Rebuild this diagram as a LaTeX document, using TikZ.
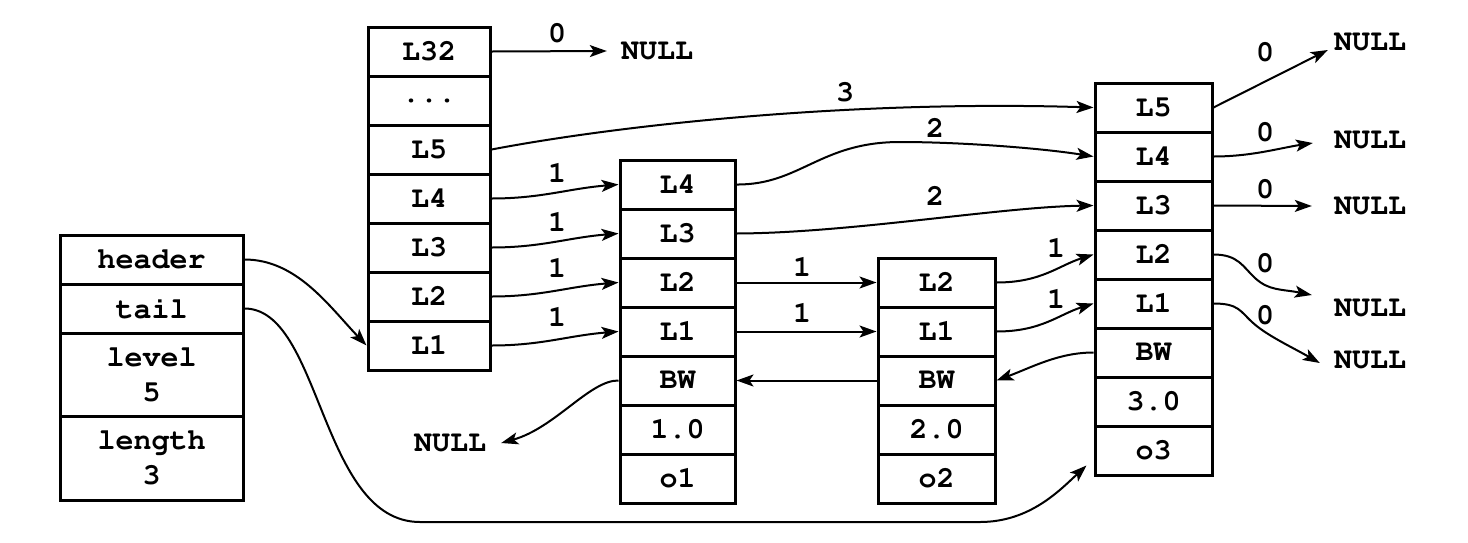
\documentclass[tikz,border=0pt]{standalone}
\usepackage[T1]{fontenc}
\renewcommand{\ttdefault}{pcr}
\usetikzlibrary{arrows.meta}
\tikzset{
  lbl/.style={font=\ttfamily\bfseries\fontsize{30}{35}\selectfont, inner sep=0pt},
  cell/.style={lbl, draw, line width=3pt, minimum height=49pt, align=center},
  hcell/.style={cell, minimum width=122pt},
  acell/.style={cell, minimum width=115pt},
  bcell/.style={cell, minimum width=117pt},
  scell/.style={cell, minimum width=183pt},
  arr/.style={line width=2pt, -{Stealth[length=17pt,width=12pt,inset=4pt]}},
}
\begin{document}
\begin{tikzpicture}[x=1pt, y=-1pt]
\useasboundingbox (0,0) rectangle (1468,542);
% list struct
\node[scell] (shead) at (151.5,259.5) {header};
\node[scell] (stail) at (151.5,308.5) {tail};
\node[scell, minimum height=83pt] (slevel) at (151.5,374.5) {level\\5};
\node[scell, minimum height=84pt] (slen) at (151.5,458) {length\\3};
% header node
\node[hcell] (h32) at (429,51.5) {L32};
\node[hcell] (hdots) at (429,100.5) {...};
\node[hcell] (h5) at (429,149.5) {L5};
\node[hcell] (h4) at (429,198.5) {L4};
\node[hcell] (h3) at (429,247.5) {L3};
\node[hcell] (h2) at (429,296.5) {L2};
\node[hcell] (h1) at (429,345.5) {L1};
% node 1
\node[acell] (aL4) at (677.5,184.5) {L4};
\node[acell] (aL3) at (677.5,233.5) {L3};
\node[acell] (aL2) at (677.5,282.5) {L2};
\node[acell] (aL1) at (677.5,331.5) {L1};
\node[acell] (aBW) at (677.5,380.5) {BW};
\node[acell] (aSc) at (677.5,429.5) {1.0};
\node[acell] (aOb) at (677.5,478.5) {o1};
% node 2
\node[bcell] (bL2) at (936.5,282.5) {L2};
\node[bcell] (bL1) at (936.5,331.5) {L1};
\node[bcell] (bBW) at (936.5,380.5) {BW};
\node[bcell] (bSc) at (936.5,429.5) {2.0};
\node[bcell] (bOb) at (936.5,478.5) {o2};
% node 3
\node[bcell] (cL5) at (1153.5,107.5) {L5};
\node[bcell] (cL4) at (1153.5,156.5) {L4};
\node[bcell] (cL3) at (1153.5,205.5) {L3};
\node[bcell] (cL2) at (1153.5,254.5) {L2};
\node[bcell] (cL1) at (1153.5,303.5) {L1};
\node[bcell] (cBW) at (1153.5,352.5) {BW};
\node[bcell] (cSc) at (1153.5,401.5) {3.0};
\node[bcell] (cOb) at (1153.5,450.5) {o3};
% NULL texts
\node[lbl] (nullA) at (657,51) {NULL};
\node[lbl] (nullB) at (450,443) {NULL};
\node[lbl] (nullR1) at (1370,42) {NULL};
\node[lbl] (nullR2) at (1370,140) {NULL};
\node[lbl] (nullR3) at (1370,206) {NULL};
\node[lbl] (nullR4) at (1370,308) {NULL};
\node[lbl] (nullR5) at (1370,360) {NULL};
% span labels
\node[lbl] (s32) at (557,33) {0};
\node[lbl] (s5) at (845,92) {3};
\node[lbl] (s4) at (557,173) {1};
\node[lbl] (s3) at (557,222) {1};
\node[lbl] (s2) at (557,268) {1};
\node[lbl] (s1) at (557,317) {1};
\node[lbl] (sa4) at (935,128) {2};
\node[lbl] (sa3) at (935,196) {2};
\node[lbl] (sa2) at (802,267) {1};
\node[lbl] (sa1) at (802,313) {1};
\node[lbl] (sb2) at (1056,248) {1};
\node[lbl] (sb1) at (1056,299) {1};
\node[lbl] (sc5) at (1265,52) {0};
\node[lbl] (sc4) at (1265,132) {0};
\node[lbl] (sc3) at (1265,189) {0};
\node[lbl] (sc2) at (1265,263) {0};
\node[lbl] (sc1) at (1265,315) {0};
% connectors: header node
\draw[arr] (h32.east) -- ([xshift=-14pt]nullA.west);
\draw[arr] (h5.east) .. controls (620,125) and (850,100) .. (cL5.west);
\draw[arr] (h4.east) .. controls +(50,0) and +(-50,4) .. (aL4.west);
\draw[arr] (h3.east) .. controls +(50,0) and +(-50,4) .. (aL3.west);
\draw[arr] (h2.east) .. controls +(50,0) and +(-50,4) .. (aL2.west);
\draw[arr] (h1.east) .. controls +(50,0) and +(-50,4) .. (aL1.west);
% node 1
\draw[arr] (aL4.east) .. controls (800,185) and (820,142) .. (900,142) .. controls (960,142) and (1040,148) .. (cL4.west);
\draw[arr] (aL3.east) .. controls (850,233) and (1000,207) .. (cL3.west);
\draw[arr] (aL2.east) -- (bL2.west);
\draw[arr] (aL1.east) -- (bL1.west);
\draw[arr] (aBW.west) .. controls (590,380) and (555,428) .. ([xshift=15pt]nullB.east);
% node 2
\draw[arr] (bBW.west) -- (aBW.east);
\draw[arr] (bL2.east) .. controls +(45,0) and +(-35,11) .. (cL2.west);
\draw[arr] (bL1.east) .. controls +(45,0) and +(-35,11) .. (cL1.west);
% node 3
\draw[arr] (cBW.west) .. controls +(-35,0) and +(35,-13) .. (bBW.east);
\draw[arr] (cL5.east) -- ([shift={(-6,8)}]nullR1.west);
\draw[arr] (cL4.east) .. controls +(38,0) and +(-33,5) .. ([shift={(-21,3)}]nullR2.west);
\draw[arr] (cL3.east) -- ([shift={(-22,0)}]nullR3.west);
\draw[arr] (cL2.east) .. controls +(25,0) and +(-12,-11) .. (1255,278) .. controls +(14,13) and +(-30,-6) .. ([shift={(-22,-13)}]nullR4.west);
\draw[arr] (cL1.east) .. controls +(25,0) and +(-12,-11) .. (1252,322) .. controls +(14,13) and +(-30,-17) .. ([shift={(-14,3)}]nullR5.west);
% list struct pointers
\draw[arr] (shead.east) .. controls +(52,0) and +(-38,-40) .. (h1.west);
\draw[arr] (stail.east) .. controls +(77,0) and (320,522) .. (420,522) -- (980,522) .. controls (1030,522) and (1060,490) .. ([shift={(-7,15)}]cOb.west);
\end{tikzpicture}
\end{document}
